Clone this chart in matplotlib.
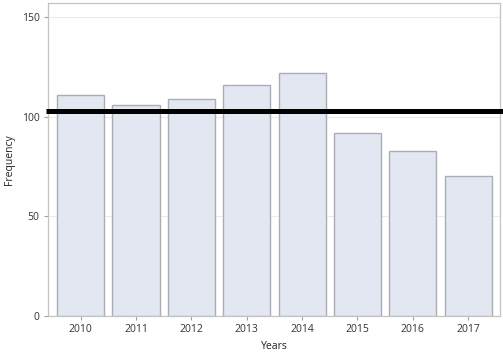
import matplotlib
matplotlib.use("Agg")
import matplotlib.pyplot as plt
import matplotlib.transforms as mtransforms

# data
years = ["2010", "2011", "2012", "2013", "2014", "2015", "2016", "2017"]
frequency = [111, 106, 109, 116, 122, 92, 83, 70]
ref_level = 103
y_ticks = [0, 50, 100, 150]

plt.rcParams['font.family'] = ['Open Sans', 'DejaVu Sans']

fig = plt.figure(figsize=(5.03, 3.55), dpi=100)
ax = fig.add_axes([0.0954, 0.110, 0.899, 0.8815])

x = range(len(years))
ax.bar(x, frequency, width=0.85, color="#e3e7f1", edgecolor="#a9adb4",
       linewidth=1.0, zorder=2)

# thick reference line, runs slightly past the frame
trans = mtransforms.blended_transform_factory(ax.transAxes, ax.transData)
ax.plot([-0.004, 1.01], [ref_level, ref_level], color="black", lw=3.6,
        transform=trans, clip_on=False, zorder=4, solid_capstyle="butt")

ax.set_xlim(-0.59, 7.58)
ax.set_ylim(0, 157)
ax.set_xticks(list(x))
ax.set_xticklabels(years)
ax.set_yticks(y_ticks)

ax.yaxis.grid(True, color="#ebebeb", lw=0.8, zorder=0)
ax.set_axisbelow(True)

for s in ax.spines.values():
    s.set_color("#c4c4c4")
    s.set_linewidth(0.9)

ax.tick_params(axis="both", labelsize=7.5, colors="#333333", length=3,
               width=0.8, pad=3)
ax.tick_params(axis="both", color="#a0a0a0")

ax.set_xlabel("Years", fontsize=7.5, color="#222222", labelpad=4)
ax.set_ylabel("Frequency", fontsize=7.5, color="#222222", labelpad=5)

fig.savefig("out.png", dpi=100)
